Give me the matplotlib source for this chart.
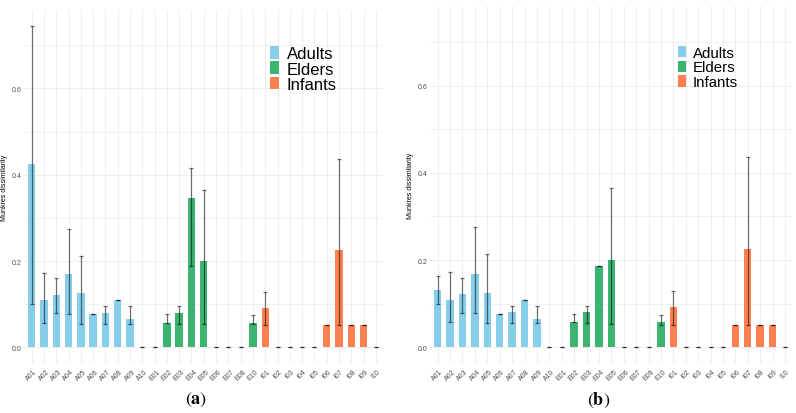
import matplotlib
matplotlib.use("Agg")
import matplotlib.pyplot as plt
from matplotlib.patches import Patch
import numpy as np

plt.rcParams['font.family'] = ['Liberation Sans', 'DejaVu Sans']

labels_a = ["A01","A02","A03","A04","A05","A06","A07","A08","A09","A10",
            "E01","E02","E03","E04","E05","E06","E07","E08","E10",
            "I01","I02","I03","I04","I05","I06","I07","I08","I09","I10"]
labels_b = ["A01","A02","A03","A04","A05","A06","A07","A08","A09","A10",
            "E01","E02","E03","E04","E05","E06","E07","E09","E10",
            "I01","I02","I03","I04","I05","I06","I07","I08","I09","I10"]
groups = ["Adults"]*10 + ["Elders"]*9 + ["Infants"]*10

mean_a = [0.425,0.109,0.122,0.170,0.126,0.077,0.080,0.109,0.066,0.0,
          0.0,0.057,0.080,0.346,0.200,0.0,0.0,0.0,0.057,
          0.092,0.0,0.0,0.0,0.0,0.051,0.226,0.051,0.051,0.0]
low_a  = [0.100,0.057,0.080,0.078,0.054,0.077,0.054,0.109,0.054,0.0,
          0.0,0.057,0.054,0.188,0.054,0.0,0.0,0.0,0.053,
          0.051,0.0,0.0,0.0,0.0,0.051,0.051,0.051,0.051,0.0]
high_a = [0.745,0.173,0.160,0.275,0.212,0.077,0.095,0.109,0.095,0.0,
          0.0,0.077,0.095,0.415,0.364,0.0,0.0,0.0,0.074,
          0.129,0.0,0.0,0.0,0.0,0.051,0.436,0.051,0.051,0.0]

mean_b = [0.131,0.109,0.122,0.169,0.125,0.077,0.080,0.109,0.065,0.0,
          0.0,0.057,0.080,0.187,0.200,0.0,0.0,0.0,0.057,
          0.092,0.0,0.0,0.0,0.0,0.052,0.225,0.052,0.052,0.0]
low_b  = [0.100,0.057,0.079,0.078,0.055,0.077,0.055,0.109,0.055,0.0,
          0.0,0.057,0.055,0.187,0.054,0.0,0.0,0.0,0.052,
          0.052,0.0,0.0,0.0,0.0,0.052,0.052,0.052,0.052,0.0]
high_b = [0.163,0.172,0.159,0.275,0.213,0.077,0.095,0.109,0.095,0.0,
          0.0,0.077,0.095,0.187,0.366,0.0,0.0,0.0,0.074,
          0.128,0.0,0.0,0.0,0.0,0.052,0.436,0.052,0.052,0.0]

group_colors = {"Adults": "#87CEEB", "Elders": "#3CB371", "Infants": "#FF7F50"}
ylabel = "Munkres dissimilarity"

fig = plt.figure(figsize=(7.96, 4.14), dpi=100)

def panel(rect, labels, mean, low, high, caption, cap_x, leg_anchor, leg_fs, leg_sp):
    ax = fig.add_axes(rect)
    x = np.arange(len(labels))
    cols = [group_colors[g] for g in groups]
    ax.bar(x, mean, width=0.6, color=cols, zorder=2)
    m = np.array(mean); lo = np.array(low); hi = np.array(high)
    ax.errorbar(x, m, yerr=[m - lo, hi - m], fmt='none', ecolor='black',
                alpha=0.55, elinewidth=0.9, capsize=1.6, capthick=0.9, zorder=3)
    ax.set_xlim(-0.6, len(labels) - 0.4)
    ax.set_ylim(-0.037, 0.782)
    ax.set_yticks([0.0, 0.2, 0.4, 0.6])
    ax.set_yticklabels(["0.0", "0.2", "0.4", "0.6"])
    ax.set_yticks([0.1, 0.3, 0.5, 0.7], minor=True)
    ax.set_xticks(x)
    ax.set_xticklabels(labels, rotation=45, ha='center', va='top')
    ax.tick_params(axis='both', which='both', length=0, labelsize=5, colors='#4d4d4d')
    ax.tick_params(axis='x', pad=3)
    ax.tick_params(axis='y', pad=2)
    ax.grid(True, which='major', color='#ebebeb', linewidth=0.6, zorder=0)
    ax.grid(True, which='minor', axis='y', color='#ebebeb', linewidth=0.4, zorder=0)
    ax.set_axisbelow(True)
    for s in ax.spines.values():
        s.set_visible(False)
    ax.set_ylabel(ylabel, fontsize=5, color='black')
    ax.yaxis.set_label_coords(-0.045, 0.5)
    handles = [Patch(facecolor=group_colors[k], label=k) for k in ["Adults", "Elders", "Infants"]]
    ax.legend(handles=handles, loc='upper left', bbox_to_anchor=leg_anchor, frameon=False,
              fontsize=leg_fs, handlelength=0.55, handleheight=0.8, handletextpad=0.45,
              labelspacing=leg_sp, borderpad=0, borderaxespad=0)
    fig.text(cap_x, 0.033, r'($\mathbf{' + caption + r'}$)', ha='center', va='center',
             fontsize=13, family='STIXGeneral', math_fontfamily='stix')
    return ax

panel([0.0305, 0.120, 0.451, 0.854], labels_a, mean_a, low_a, high_a, 'a', 0.247,
      (0.684, 0.897), 12, 0.0)
panel([0.5405, 0.120, 0.455, 0.862], labels_b, mean_b, low_b, high_b, 'b', 0.752,
      (0.683, 0.89), 10.8, 0.05)

fig.savefig("out.png", dpi=100)
